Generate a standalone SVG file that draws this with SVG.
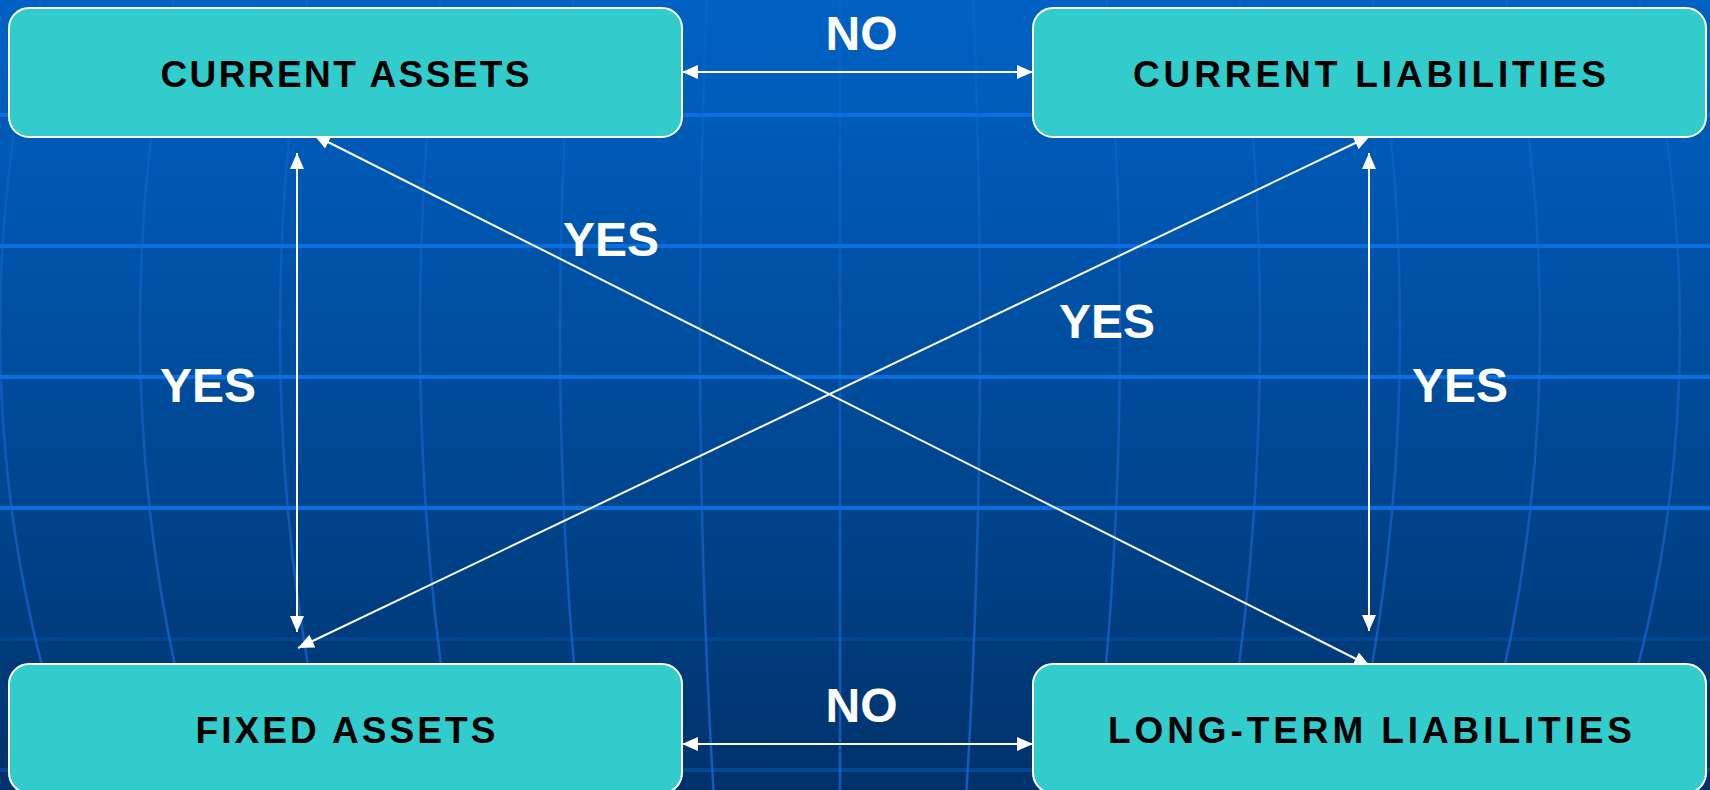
<svg xmlns="http://www.w3.org/2000/svg" width="1710" height="790" viewBox="0 0 1710 790">
  <defs>
    <linearGradient id="bg" x1="0" y1="0" x2="0" y2="1">
      <stop offset="0" stop-color="#0062c4"/>
      <stop offset="0.5" stop-color="#004b9a"/>
      <stop offset="1" stop-color="#00326a"/>
    </linearGradient>
    <linearGradient id="mg" gradientUnits="userSpaceOnUse" x1="0" y1="0" x2="0" y2="790">
      <stop offset="0" stop-color="#1a6ad6" stop-opacity="0.3"/>
      <stop offset="1" stop-color="#1a6ad6" stop-opacity="0.75"/>
    </linearGradient>
    <marker id="ah" markerUnits="userSpaceOnUse" markerWidth="16" markerHeight="14" viewBox="0 0 16 14" refX="16" refY="7" orient="auto-start-reverse">
      <path d="M0,0 L16,7 L0,14 z" fill="#ffffff"/>
    </marker>
  </defs>
  <style>
    .merid { fill: none; stroke: url(#mg); stroke-width: 2.5; }
    .par { stroke: #0a6ee0; stroke-width: 4; }
    .conn { stroke: #ffffff; stroke-width: 2; fill: none; marker-start: url(#ah); marker-end: url(#ah); }
    .box { fill: #33cccc; stroke: #ffffff; stroke-width: 2; }
    .btxt { font-family: "Liberation Sans", Arial, sans-serif; font-weight: bold; font-size: 37px; fill: #000000; text-anchor: middle; }
    .lbl { font-family: "Liberation Sans", Arial, sans-serif; font-weight: bold; font-size: 48px; fill: #ffffff; text-anchor: middle; }
  </style>

  <g id="background">
    <rect x="0" y="0" width="1710" height="790" fill="url(#bg)"/>
    <line class="merid" x1="840" y1="0" x2="840" y2="790"/>
    <ellipse class="merid" cx="840" cy="330" rx="140" ry="1074"/>
    <ellipse class="merid" cx="840" cy="330" rx="280" ry="1074"/>
    <ellipse class="merid" cx="840" cy="330" rx="420" ry="1074"/>
    <ellipse class="merid" cx="840" cy="330" rx="560" ry="1074"/>
    <ellipse class="merid" cx="840" cy="330" rx="700" ry="1074"/>
    <ellipse class="merid" cx="840" cy="330" rx="840" ry="1074"/>
    <line class="par" x1="0" y1="115" x2="1710" y2="115"/>
    <line class="par" x1="0" y1="246" x2="1710" y2="246"/>
    <line class="par" x1="0" y1="377" x2="1710" y2="377"/>
    <line class="par" x1="0" y1="508" x2="1710" y2="508"/>
    <line class="par" x1="0" y1="639" x2="1710" y2="639" stroke-opacity="0.2"/>
    <line class="par" x1="0" y1="770" x2="1710" y2="770" stroke-opacity="0.35"/>
  </g>

  <g id="connectors">
    <line class="conn" x1="682" y1="72" x2="1033" y2="72"/>
    <line class="conn" x1="682" y1="744" x2="1033" y2="744"/>
    <line class="conn" x1="297" y1="153" x2="297" y2="632"/>
    <line class="conn" x1="1369" y1="153" x2="1369" y2="631"/>
    <line class="conn" x1="314" y1="135" x2="1370" y2="666"/>
    <line class="conn" x1="298" y1="648" x2="1370" y2="136"/>
  </g>

  <g id="labels">
    <text class="lbl" x="861.5" y="50">NO</text>
    <text class="lbl" x="861.5" y="722">NO</text>
    <text class="lbl" x="611" y="256">YES</text>
    <text class="lbl" x="1107" y="338">YES</text>
    <text class="lbl" x="208" y="402">YES</text>
    <text class="lbl" x="1460" y="402">YES</text>
  </g>

  <g id="current-assets">
    <rect class="box" x="9" y="8" width="673" height="129" rx="20"/>
    <text class="btxt" x="345" y="87" textLength="369">CURRENT ASSETS</text>
  </g>
  <g id="current-liabilities">
    <rect class="box" x="1033" y="8" width="673" height="129" rx="20"/>
    <text class="btxt" x="1369.5" y="87" textLength="473">CURRENT LIABILITIES</text>
  </g>
  <g id="fixed-assets">
    <rect class="box" x="9" y="664" width="673" height="129" rx="20"/>
    <text class="btxt" x="345.5" y="743" textLength="300">FIXED ASSETS</text>
  </g>
  <g id="long-term-liabilities">
    <rect class="box" x="1033" y="664" width="673" height="129" rx="20"/>
    <text class="btxt" x="1370" y="743" textLength="524">LONG-TERM LIABILITIES</text>
  </g>
</svg>
